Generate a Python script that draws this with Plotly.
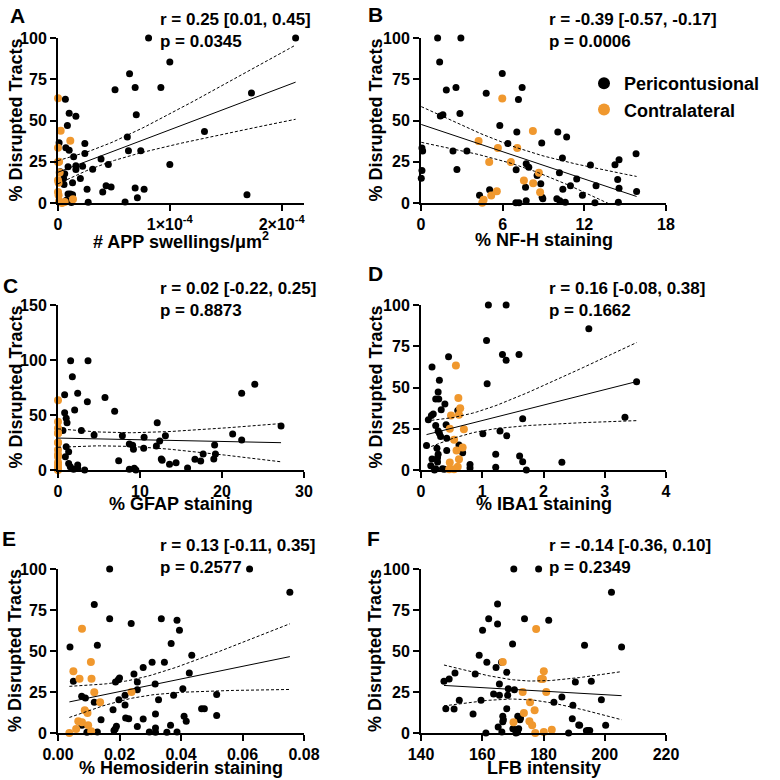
import numpy as np
import plotly.graph_objects as go

BLACK = "black"
ORANGE = "#F0982E"
FONT = "Liberation Sans"

# ---- A: APP swellings (x in units of 1e-4 per um^2) ----
app_peri_x = [0.81, 1.0, 0.64, 0.51, 0.69, 0.92, 0.066, 0.70, 0.10, 0.16, 0.084, 0.62, 0.24, 0.07, 0.10,
              0.01, 0.63, 0.74, 0.24, 0.14, 0.385, 0.45, 1.0, 0.16, 0.22, 0.09, 0.16, 0.31, 0.02, 0.06,
              0.05, 0.20, 0.13, 0.054, 0.43, 0.475, 0.26, 0.69, 0.77, 0.40, 0.71, 0.09, 0.11, 0.13,
              0.075, 0.27, 0.60, 0.05, 0.12, 2.125, 1.73, 1.31, 1.69]
app_peri_y = [100, 85.4, 78.3, 68.6, 70, 70, 62.9, 53.5, 54.4, 52.5, 47, 40, 36.1, 33.5, 32,
              36.5, 31.6, 31.6, 30, 28, 26.6, 23.3, 23.3, 22.5, 22.3, 21.9, 20.3, 20.5, 19, 17.8,
              14.8, 14.8, 12.2, 11.2, 10.5, 9.7, 8.3, 9.1, 8.3, 6.7, 3.2, 5.5, 5.5, 5,
              1.6, 0.4, 0.6, 0.5, 0.3, 100, 66.7, 43.4, 5]
app_contra_x = [0, 0.024, 0.11, 0, 0.01, 0.015, 0, 0.005, 0, 0.005, 0.01, 0.036, 0.06, 0.134, 0]
app_contra_y = [63.5, 43.8, 37.7, 33.5, 25, 18.5, 13.8, 12.2, 6.7, 4.7, 1, 0, 0.6, 2.2, 24.8]

# ---- B: NF-H ----
nfh_peri_x = [1.22, 2.93, 1.37, 1.86, 2.57, 4.79, 5.97, 7.43, 7.16, 1.42, 1.61, 2.86, 5.79, 7.04, 10.05,
              10.7, 6.38, 8.87, 0.07, 0.12, 2.35, 3.37, 7.73, 7.92, 10.39, 2.64, 6.99, 0.07, 0.02, 10.17,
              11.44, 10.98, 8.53, 8.8, 7.68, 10.42, 11.86, 4.3, 5.04, 8.9, 8.95, 7.73, 6.97, 7.2, 9.98,
              10.2, 10.6, 12.45, 14.25, 14.55, 15.8, 12.86, 14.45, 14.55, 15.84, 12.78, 14.5]
nfh_peri_y = [100, 100, 85.4, 68.5, 70, 66.5, 78.5, 70, 62.8, 52.8, 53.5, 54.3, 47, 43, 43,
              40, 36, 36.4, 33.3, 31.5, 31.5, 31.5, 23.8, 21.7, 27.2, 20.3, 20.1, 19.7, 15, 18.3,
              14.6, 10.4, 16.7, 11.6, 9.6, 8.3, 4.7, 4.7, 8.1, 3.5, 2.5, 1.4, 0.2, 0.2, 2.6,
              1.4, 0.4, 23, 23.2, 26.2, 29.9, 10.4, 14.2, 8.9, 6.9, 0.2, 0.4]
nfh_contra_x = [5.97, 8.22, 4.23, 5.65, 7.07, 5.01, 6.6, 8.66, 7.56, 8.24, 8.75, 5.57, 5.16, 4.6, 4.5]
nfh_contra_y = [63.4, 43.7, 37.6, 33.3, 33.3, 24.8, 24.8, 18.3, 13.6, 12, 6.5, 7.1, 4.5, 2, 0.2]

# ---- C: GFAP ----
gfap_peri_x = [1.54, 3.66, 1.75, 0.81, 2.4, 3.58, 5.73, 6.91, 2.03, 0.81, 1.0, 1.1, 12.1, 2.85, 0.6,
               4.4, 7.85, 10.5, 13.1, 12.4, 12.0, 8.7, 9.1, 9.2, 10.45, 1.0, 1.3, 0.9, 7.4, 12.6,
               12.7, 13.6, 14.4, 15.8, 1.3, 1.5, 1.9, 2.4, 2.4, 3.25, 8.7, 9.3, 9.5, 24.0, 22.4,
               27.2, 21.3, 22.4, 19.1, 17.7, 19.2, 19.0, 16.7, 17.4]
gfap_peri_y = [99.4, 99.4, 84.8, 68.5, 69.7, 62.1, 65.8, 53.3, 54.5, 52.1, 47, 43, 43, 35.8, 35.8,
               31.8, 31.2, 29.7, 31.2, 26.4, 21.8, 23.6, 22.4, 18.8, 19.7, 21.2, 16.7, 12.1, 8.5, 10,
               8.8, 5.2, 6.7, 1.8, 6, 3, 0.6, 4.5, 1.5, 0, 0.6, 1.5, 0, 77.9, 69.7,
               40, 32.7, 27.3, 22.7, 14.5, 14.5, 10, 9.7, 8.2]
gfap_contra_x = [0, 0, 0, 0, 0, 0, 0, 0, 0, 0, 0, 0, 0, 0, 0]
gfap_contra_y = [63.5, 43.9, 38, 33.5, 33.3, 25, 24.8, 18.5, 14, 12, 7, 4.5, 2, 0.5, 0]

# ---- D: IBA1 ----
iba_peri_x = [1.1, 1.39, 1.07, 1.08, 1.33, 1.39, 1.6, 0.45, 0.18, 0.3, 0.28, 0.29, 0.24, 0.39, 0.33,
              0.17, 0.2, 0.12, 0.41, 0.24, 0.28, 0.3, 0.09, 0.16, 0.32, 0.42, 0.42, 0.26, 0.28, 0.18,
              0.27, 0.27, 0.24, 0.35, 0.22, 0.38, 0.62, 0.68, 0.8, 0.8, 0.6, 1.01, 1.29, 1.4, 1.22,
              1.22, 1.61, 1.66, 1.72, 1.66, 2.3, 2.74, 3.52, 3.33]
iba_peri_y = [100, 100, 78.5, 52.3, 70, 66.5, 70, 68.6, 62.5, 54.4, 47.3, 43, 43, 40, 36.5,
              33, 34, 30.4, 27.4, 27, 23.7, 22.3, 14.8, 2.6, 20.3, 19.3, 11.8, 13.2, 9.5, 6.7,
              7.5, 4.9, 0.8, 0.8, 0, 0.5, 15.2, 10.5, 3.4, 1.2, 36.1, 21.9, 23.7, 20.7, 9.5,
              1.6, 8.5, 5, 0, 31, 4.7, 85.6, 53.5, 31.9]
iba_contra_x = [0.57, 0.61, 0.64, 0.62, 0.49, 0.47, 0.7, 0.54, 0.58, 0.68, 0.62, 0.47, 0.6, 0.46, 0.54]
iba_contra_y = [63.3, 43.6, 37.5, 33.5, 33, 25, 24.7, 18.3, 11.8, 13.6, 6.5, 4.5, 2, 0.4, 0.4]

# ---- E: Hemosiderin ----
hemo_peri_x = [0.0168, 0.0118, 0.0168, 0.0238, 0.0039, 0.0128, 0.0336, 0.0387, 0.0395, 0.0368, 0.0435,
               0.005, 0.0077, 0.0089, 0.0078, 0.0094, 0.0128, 0.0118, 0.014, 0.0179, 0.0186, 0.019,
               0.0182, 0.0187, 0.0196, 0.02, 0.0198, 0.0218, 0.0218, 0.022, 0.023, 0.0247, 0.0258,
               0.0258, 0.0258, 0.0277, 0.0277, 0.0297, 0.0306, 0.0316, 0.0327, 0.0317, 0.0317, 0.0317,
               0.0346, 0.0354, 0.0366, 0.0376, 0.0387, 0.0406, 0.041, 0.0417, 0.0427, 0.0623, 0.0754,
               0.0516, 0.0467, 0.0476, 0.0516]
hemo_peri_y = [100, 78.3, 69.7, 66.7, 52.4, 53.5, 69.7, 68.7, 62.6, 54.5, 47.4,
               31.5, 22.4, 21.3, 4.7, 0.4, 0.6, 18.7, 8.1, 14.2, 2.4, 4.1,
               1.6, 31.1, 32.5, 33.5, 20.3, 23, 17, 9.1, 8.7, 36, 31.1,
               26.4, 3.9, 40, 8.5, 0.6, 43.1, 29.9, 20.3, 11.6, 3, 0.4,
               43.1, 0.4, 4.7, 23, 0.6, 27, 10.2, 7.1, 36.6, 100, 85.8,
               23.4, 14.8, 14.8, 10.6]
hemo_contra_x = [0.0078, 0.0107, 0.005, 0.007, 0.0109, 0.0118, 0.0137, 0.0239, 0.0087, 0.0096, 0.0066,
                 0.0078, 0.0098, 0.0059, 0.0037, 0.0108]
hemo_contra_y = [63.6, 43.3, 37.6, 33.1, 33.1, 24.8, 18.7, 25, 13.8, 12.2, 7.1, 6.5, 4.7, 2.4, 0, 1]

# ---- F: LFB ----
lfb_peri_x = [170.3, 178.4, 165, 162.1, 165, 160.1, 173.8, 181.7, 169.9, 159, 161.5, 166.3, 164.5, 168,
              147.5, 149.2, 151.1, 157.7, 165.6, 168.5, 170.5, 163.7, 165.6, 168.3, 152.5, 159.6, 148.1,
              150.8, 168, 157, 166.7, 166.9, 166.7, 165.2, 161.2, 166.4, 170, 171, 171, 171.5, 171.6,
              172.5, 172.3, 171.9, 183.4, 186, 189.6, 189.4, 191.5, 188.2, 193.4, 190.4, 195.6, 194,
              202.2, 205.5, 198.9, 191.8, 194.5, 195.1, 200.3]
lfb_peri_y = [100, 100, 78.7, 69.7, 66.5, 62.6, 69.7, 68.7, 54.3, 47.4, 43.1, 43.1, 40, 37,
              31.5, 32.9, 36.6, 36, 29.9, 27, 26.4, 23.8, 23, 23, 19.9, 19.9, 14.8,
              14.6, 14.8, 11.6, 10.2, 8.1, 6.9, 3.7, 0, 0.6, 2.6, 2, 0, 0.4, 10.2,
              9.1, 8.1, 2.6, 18.7, 22, 16.9, 8.7, 4.9, 0, 53.5, 31.1, 31.5, 1.4,
              85.8, 52.4, 20.3, 4.7, 1.6, 1.6, 4.7]
lfb_contra_x = [177.6, 166.7, 180.1, 179.2, 179.8, 173.2, 180.9, 175.6, 173.6, 177.1, 175.4, 176.3,
                170.2, 182.7, 177.3, 180.1]
lfb_contra_y = [63.4, 43.3, 37.6, 32.9, 32.9, 25, 25, 18.7, 12.2, 13.8, 7.1, 4.7, 6.5, 2, 0, 0.6]

panel_letters = ["A", "B", "C", "D", "E", "F"]
x_titles = ["# APP swellings/μm<sup>2</sup>", "% NF-H staining", "% GFAP staining",
            "% IBA1 staining", "% Hemosiderin staining", "LFB intensity"]
r_texts = ["r = 0.25 [0.01, 0.45]", "r = -0.39 [-0.57, -0.17]", "r = 0.02 [-0.22, 0.25]",
           "r = 0.16 [-0.08, 0.38]", "r = 0.13 [-0.11, 0.35]", "r = -0.14 [-0.36, 0.10]"]
p_texts = ["p = 0.0345", "p = 0.0006", "p = 0.8873", "p = 0.1662", "p = 0.2577", "p = 0.2349"]

x_ticks = [[0, 1e-4, 2e-4], [0, 6, 12, 18], [0, 10, 20, 30], [0, 1, 2, 3, 4],
           [0, 0.02, 0.04, 0.06, 0.08], [140, 160, 180, 200, 220]]
x_ticktext = [["0", "1×10<sup>-4</sup>", "2×10<sup>-4</sup>"], ["0", "6", "12", "18"],
              ["0", "10", "20", "30"], ["0", "1", "2", "3", "4"],
              ["0.00", "0.02", "0.04", "0.06", "0.08"], ["140", "160", "180", "200", "220"]]
x_ranges = [[0, 2.2e-4], [0, 18], [0, 30], [0, 4], [0, 0.08], [140, 220]]
y_ticks = [[0, 25, 50, 75, 100]] * 2 + [[0, 50, 100, 150]] + [[0, 25, 50, 75, 100]] * 3
y_ranges = [[0, 100]] * 2 + [[0, 150]] + [[0, 100]] * 3

panels = [
    ([v * 1e-4 for v in app_peri_x], app_peri_y, [v * 1e-4 for v in app_contra_x], app_contra_y),
    (nfh_peri_x, nfh_peri_y, nfh_contra_x, nfh_contra_y),
    (gfap_peri_x, gfap_peri_y, gfap_contra_x, gfap_contra_y),
    (iba_peri_x, iba_peri_y, iba_contra_x, iba_contra_y),
    (hemo_peri_x, hemo_peri_y, hemo_contra_x, hemo_contra_y),
    (lfb_peri_x, lfb_peri_y, lfb_contra_x, lfb_contra_y),
]

W = 780.0
col_dom = [[58 / W, 304 / W], [421 / W, 666 / W]]
row_px = [(38, 203), (305, 470), (569, 733)]   # top, bottom (px from top)
xtitle_px = [240, 504, 768]
letter_px = [(17, 15), (375, 14), (10, 285), (375, 273), (9, 538), (373, 538)]
stat_y_px = [31, 31, 299, 299, 556, 556]
stat_x_px = [158, 547]
ytitle_x_px = [15, 375]


def fit_with_ci(x, y, n_pts=60, t=1.99):
    x = np.asarray(x, float)
    y = np.asarray(y, float)
    n = len(x)
    slope, intercept = np.polyfit(x, y, 1)
    resid = y - (slope * x + intercept)
    s = np.sqrt(np.sum(resid ** 2) / (n - 2))
    xm = x.mean()
    sxx = np.sum((x - xm) ** 2)
    xs = np.linspace(x.min(), x.max(), n_pts)
    yh = slope * xs + intercept
    half = t * s * np.sqrt(1.0 / n + (xs - xm) ** 2 / sxx)
    return xs, yh, yh - half, yh + half


fig = go.Figure()
layout = {}
annotations = []
bold = dict(family=FONT, color="black", weight="bold")

for i, (px, py, cx, cy) in enumerate(panels):
    row, col = i // 2, i % 2
    ax = "" if i == 0 else str(i + 1)
    xref, yref = "x" + ax, "y" + ax

    fig.add_trace(go.Scatter(x=px, y=py, mode="markers", xaxis=xref, yaxis=yref,
                             marker=dict(color=BLACK, size=7), cliponaxis=False,
                             name="Pericontusional", legendgroup="peri", showlegend=(i == 0)))
    fig.add_trace(go.Scatter(x=cx, y=cy, mode="markers", xaxis=xref, yaxis=yref,
                             marker=dict(color=ORANGE, size=8), cliponaxis=False,
                             name="Contralateral", legendgroup="contra", showlegend=(i == 0)))

    xs, yh, lo, hi = fit_with_ci(list(px) + list(cx), list(py) + list(cy))
    fig.add_trace(go.Scatter(x=xs, y=yh, mode="lines", xaxis=xref, yaxis=yref,
                             line=dict(color=BLACK, width=1), showlegend=False, hoverinfo="skip"))
    for band in (lo, hi):
        fig.add_trace(go.Scatter(x=xs, y=band, mode="lines", xaxis=xref, yaxis=yref,
                                 line=dict(color=BLACK, width=1, dash="3px,2px"),
                                 showlegend=False, hoverinfo="skip"))

    top, bot = row_px[row]
    axis_common = dict(showline=True, linecolor="black", linewidth=2, ticks="outside",
                       ticklen=6, tickwidth=2, tickcolor="black", showgrid=False,
                       zeroline=False, tickfont=dict(size=16, **bold))
    layout["xaxis" + ax] = dict(domain=col_dom[col], anchor=yref, range=x_ranges[i],
                                tickvals=x_ticks[i], ticktext=x_ticktext[i], **axis_common)
    layout["yaxis" + ax] = dict(domain=[1 - bot / W, 1 - top / W], anchor=xref,
                                range=y_ranges[i], tickvals=y_ticks[i], **axis_common)

    # panel letter
    lx, ly = letter_px[i]
    annotations.append(dict(text=panel_letters[i], x=lx / W, y=1 - ly / W, xref="paper", yref="paper",
                            showarrow=False, xanchor="center", yanchor="middle",
                            font=dict(size=21, **bold)))
    # stats
    annotations.append(dict(text=r_texts[i] + "<br>" + p_texts[i], x=stat_x_px[col] / W,
                            y=1 - stat_y_px[i] / W, xref="paper", yref="paper", showarrow=False,
                            xanchor="left", yanchor="middle", align="left",
                            font=dict(size=17, **bold)))
    # axis titles
    annotations.append(dict(text=x_titles[i], x=sum(col_dom[col]) / 2, y=1 - xtitle_px[row] / W,
                            xref="paper", yref="paper", showarrow=False, xanchor="center",
                            yanchor="middle", font=dict(size=18, **bold)))
    annotations.append(dict(text="% Disrupted Tracts", x=ytitle_x_px[col] / W,
                            y=1 - (top + bot) / 2 / W, xref="paper", yref="paper", showarrow=False,
                            textangle=-90, xanchor="center", yanchor="middle",
                            font=dict(size=18, **bold)))

fig.update_layout(
    width=780, height=780,
    margin=dict(l=0, r=0, t=0, b=0, autoexpand=False),
    paper_bgcolor="white", plot_bgcolor="white",
    font=dict(family=FONT, color="black"),
    showlegend=True,
    legend=dict(x=584 / W, y=1 - 65 / W, xanchor="left", yanchor="top",
                font=dict(size=18, **bold), itemsizing="constant",
                bgcolor="rgba(0,0,0,0)", tracegroupgap=0),
    annotations=annotations,
    **layout,
)

fig.write_html("out.html", config={"displayModeBar": False},
               post_script="document.body.style.margin='0';")
